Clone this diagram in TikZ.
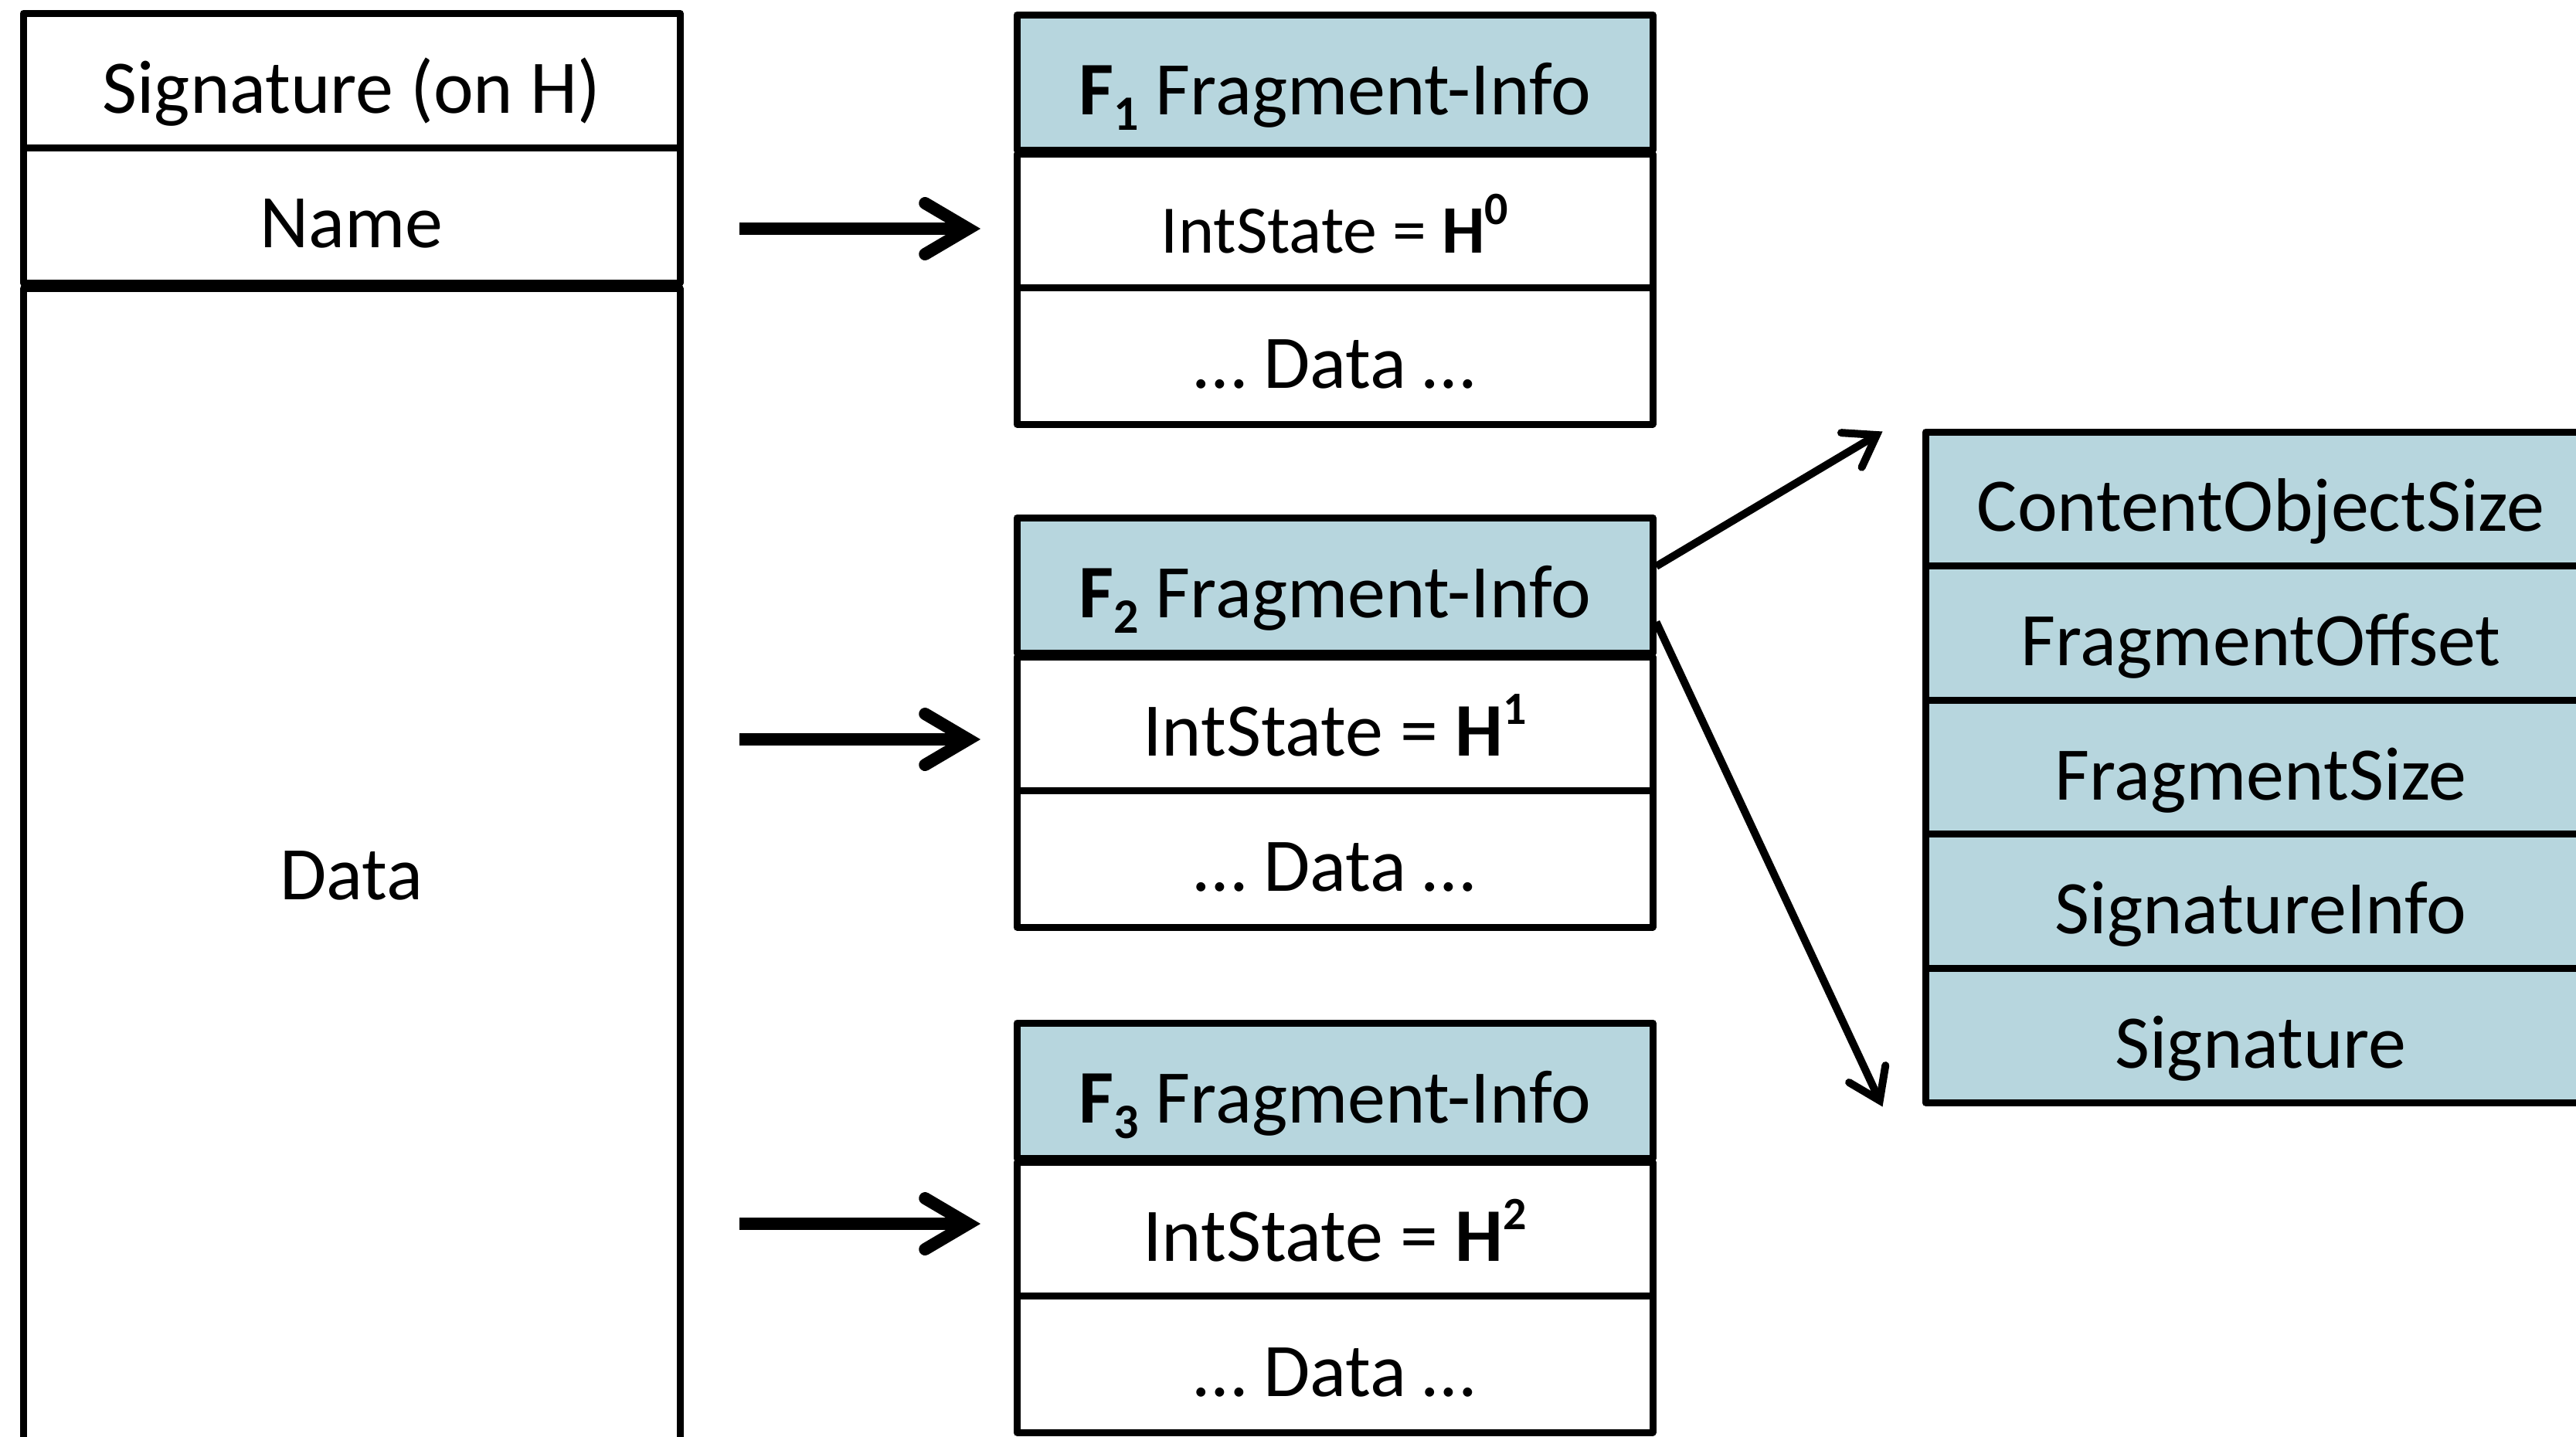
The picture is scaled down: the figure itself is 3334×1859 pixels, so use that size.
\documentclass[tikz,border=0pt]{standalone}
\usepackage{fontspec}
\setmainfont{Carlito}
\usetikzlibrary{arrows.meta}
\definecolor{hdrblue}{RGB}{183,214,222}
\tikzset{
  cell/.style={draw=black, line width=4.5pt, line join=round, fill=white,
    rectangle, inner sep=0pt, text height=42pt, text depth=0pt,
    font=\fontsize{49pt}{58pt}\selectfont},
  leftcell/.style={cell, minimum width=425pt},
  fragcell/.style={cell, minimum width=411.5pt},
  fraghead/.style={fragcell, fill=hdrblue, minimum height=87.5pt},
  infocell/.style={cell, fill=hdrblue, minimum width=434pt, minimum height=86.8pt},
  bigarrow/.style={line width=8pt,
    -{Straight Barb[length=28pt, width=33pt, line cap=round, line join=miter]},
    preaction={draw=black, opacity=0.12, transform canvas={shift={(1.5pt,-3pt)}}}},
  thinarrow/.style={line width=5pt,
    -{Straight Barb[length=19pt, width=26pt, line cap=round, line join=miter]}},
}
% bold superscript and subscript digits, set a little larger than the default
\newcommand{\supdigit}[1]{\raisebox{0.42em}{\fontsize{30pt}{30pt}\selectfont\textbf{#1}}}
\newcommand{\subdigit}[1]{\raisebox{-0.2em}{\fontsize{32pt}{32pt}\selectfont\textbf{#1}}}
\begin{document}
\begin{tikzpicture}[x=0.5pt, y=-0.5pt]
\useasboundingbox (0,0) rectangle (3334,1859);
\clip (0,0) rectangle (3334,1859);

% the signed content object
\node[leftcell, minimum height=87pt]   (sig)  at (455,104)   {Signature (on H)};
\node[leftcell, minimum height=87.5pt] (name) at (455,278.5) {Name};
\node[leftcell, minimum height=749pt]  (data) at (455,1122)  {Data};

% fragment 1
\node[fraghead] (f1h) at (1727.5,106.5) {\textbf{F}\subdigit{1} Fragment-Info};
\node[fragcell, minimum height=86.5pt, font=\fontsize{44pt}{52pt}\selectfont] (f1s) at (1727.5,285.5)
  {IntState = \textbf{H}\supdigit{0}};
\node[fragcell, minimum height=88.5pt] (f1d) at (1727.5,460.5) {… Data …};

% fragment 2
\node[fraghead] (f2h) at (1727.5,757.5) {\textbf{F}\subdigit{2} Fragment-Info};
\node[fragcell, minimum height=86.5pt] (f2s) at (1727.5,936.5)
  {IntState = \textbf{H}\supdigit{1}};
\node[fragcell, minimum height=88.5pt] (f2d) at (1727.5,1111.5) {… Data …};

% fragment 3
\node[fraghead] (f3h) at (1727.5,1411.5) {\textbf{F}\subdigit{3} Fragment-Info};
\node[fragcell, minimum height=86.5pt] (f3s) at (1727.5,1590.5)
  {IntState = \textbf{H}\supdigit{2}};
\node[fragcell, minimum height=88.5pt] (f3d) at (1727.5,1765.5) {… Data …};

% fields of the fragment-info header
\node[infocell] (i1) at (2926,645.8)  {ContentObjectSize};
\node[infocell] (i2) at (2926,819.4)  {FragmentOffset};
\node[infocell] (i3) at (2926,993)    {FragmentSize};
\node[infocell] (i4) at (2926,1166.6) {SignatureInfo};
\node[infocell] (i5) at (2926,1340.2) {Signature};

% arrows from the object to its fragments
\coordinate (a1s) at (957,296);  \coordinate (a1e) at (1269,296);
\coordinate (a2s) at (957,957);  \coordinate (a2e) at (1269,957);
\coordinate (a3s) at (957,1584); \coordinate (a3e) at (1269,1584);
\draw[bigarrow] (a1s) -- (a1e);
\draw[bigarrow] (a2s) -- (a2e);
\draw[bigarrow] (a3s) -- (a3e);

% expansion of the F2 header
\coordinate (x1s) at ([yshift=12.25pt]f2h.east);
\coordinate (x2s) at ([yshift=-23.75pt]f2h.east);
\coordinate (x1e) at ([xshift=-25.5pt, yshift=-2pt]i1.north west);
\coordinate (x2e) at ([xshift=-25.5pt, yshift=-0.5pt]i5.south west);
\draw[thinarrow] (x1s) -- (x1e);
\draw[thinarrow] (x2s) -- (x2e);
\end{tikzpicture}
\end{document}
